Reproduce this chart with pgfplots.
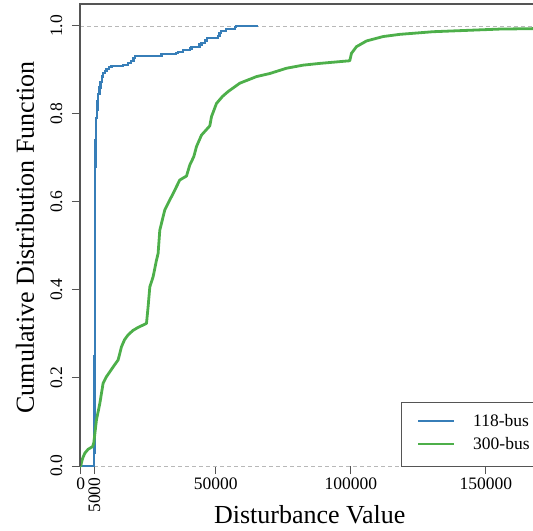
\documentclass[border=0pt]{standalone}
\usepackage{pgfplots}
\pgfplotsset{compat=1.18}
\usepackage{fontspec}
\setmainfont{Liberation Serif}
\definecolor{cblue}{HTML}{377EB8}
\definecolor{cgreen}{HTML}{4DAF4A}
\definecolor{frame}{HTML}{555555}
\begin{document}
\begin{tikzpicture}
\begin{axis}[
 at={(80bp,65bp)}, anchor=south west,
 scale only axis, width=453bp, height=462bp,
 xmin=-300, xmax=167500, ymin=0, ymax=1.05,
 clip=false,
 axis line style={draw=none},
 xtick={0,50000,100000,150000},
 xticklabels={0,50000,100000,150000},
 extra x ticks={5000},
 extra x tick labels={5000},
 extra x tick style={xticklabel style={rotate=90, anchor=east}},
 ytick={0,0.2,0.4,0.6,0.8,1},
 yticklabels={0.0,0.2,0.4,0.6,0.8,1.0},
 yticklabel style={xshift=-6bp, rotate=90, anchor=south},
 scaled x ticks=false, scaled y ticks=false,
 tick align=outside, xtick pos=bottom, ytick pos=left,
 major tick length=8bp,
 tick style={frame, line width=1bp},
 tick label style={font=\fontsize{17.5bp}{21bp}\selectfont},
 xlabel={Disturbance Value},
 xlabel style={at={(axis description cs:0.507,-0.1255)}, anchor=base, font=\fontsize{26bp}{30bp}\selectfont},
 ylabel={Cumulative Distribution Function},
 ylabel style={at={(axis description cs:-0.1214,0.495)}, anchor=center, font=\fontsize{26bp}{30bp}\selectfont},
 legend style={draw=none, fill=none, at={(axis description cs:0.7439,0.0725)}, anchor=west, inner sep=0pt, row sep=9bp, column sep=18bp, font=\fontsize{17.5bp}{21bp}\selectfont, nodes={inner sep=0pt}},
 legend cell align=left,
 legend image code/.code={\draw[#1, line width=2bp] (0bp,0bp) -- (36bp,0bp);},
]
\addplot[forget plot, color=black!28, line width=0.8bp, dash pattern=on 4bp off 3bp] coordinates {(-300,1) (167500,1)};
\addplot[forget plot, color=black!28, line width=0.8bp, dash pattern=on 4bp off 3bp] coordinates {(-300,0) (167500,0)};
\addplot[cblue, line width=2.2bp, const plot] coordinates {
(-300,0) (5000,0.03) (5040,0.12) (5080,0.25) (5120,0.38) (5170,0.5) (5230,0.6) (5300,0.68) (5420,0.74) (5560,0.79) (5900,0.81) (6200,0.83) (6500,0.845) (6900,0.86) (7300,0.872) (7800,0.885) (8300,0.893) (8900,0.898) (9500,0.903) (10300,0.906) (11400,0.909) (15500,0.912) (17500,0.916) (18700,0.921) (19500,0.928) (20000,0.931) (29900,0.936) (35400,0.938) (36000,0.941) (37900,0.945) (40300,0.949) (41000,0.953) (44000,0.958) (44700,0.962) (46000,0.967) (46700,0.972) (50800,0.978) (51400,0.984) (51800,0.989) (53900,0.993) (57000,0.997) (57500,1.0) (65700,1.0)
};
\addlegendentry{118-bus}
\addplot[cgreen, line width=2.8bp, line join=round] coordinates {
(-300,0) (0,0) (250,0.008) (700,0.018) (1480,0.029) (2700,0.038) (4330,0.044) (4800,0.052) (5800,0.105) (7040,0.142) (8260,0.188) (9500,0.203) (10740,0.214) (12300,0.228) (13820,0.241) (15070,0.271) (16200,0.287) (17520,0.298) (19300,0.308) (21220,0.315) (24330,0.324) (24930,0.362) (25560,0.407) (26780,0.43) (28040,0.468) (28630,0.483) (29260,0.536) (31110,0.582) (32960,0.605) (33590,0.612) (35450,0.635) (36670,0.65) (39150,0.659) (40370,0.684) (41850,0.703) (42850,0.726) (44700,0.752) (47780,0.773) (48410,0.794) (50260,0.824) (52500,0.84) (54560,0.851) (58890,0.87) (65070,0.885) (70000,0.892) (76190,0.904) (82340,0.911) (88520,0.915) (99630,0.921) (100260,0.938) (102110,0.953) (105830,0.966) (111960,0.976) (118150,0.981) (130480,0.987) (142840,0.99) (155190,0.993) (167500,0.994)
};
\addlegendentry{300-bus}
\draw[frame, line width=1.5bp] (rel axis cs:0,0) -- (rel axis cs:0,1) -- (rel axis cs:1.05,1);
\draw[frame, line width=1bp, fill=white] (rel axis cs:0.7108,0) rectangle (rel axis cs:1.1,0.1364);
\end{axis}
\pgfresetboundingbox
\path[use as bounding box] (0,0) rectangle (533bp,531bp);
\end{tikzpicture}
\end{document}
